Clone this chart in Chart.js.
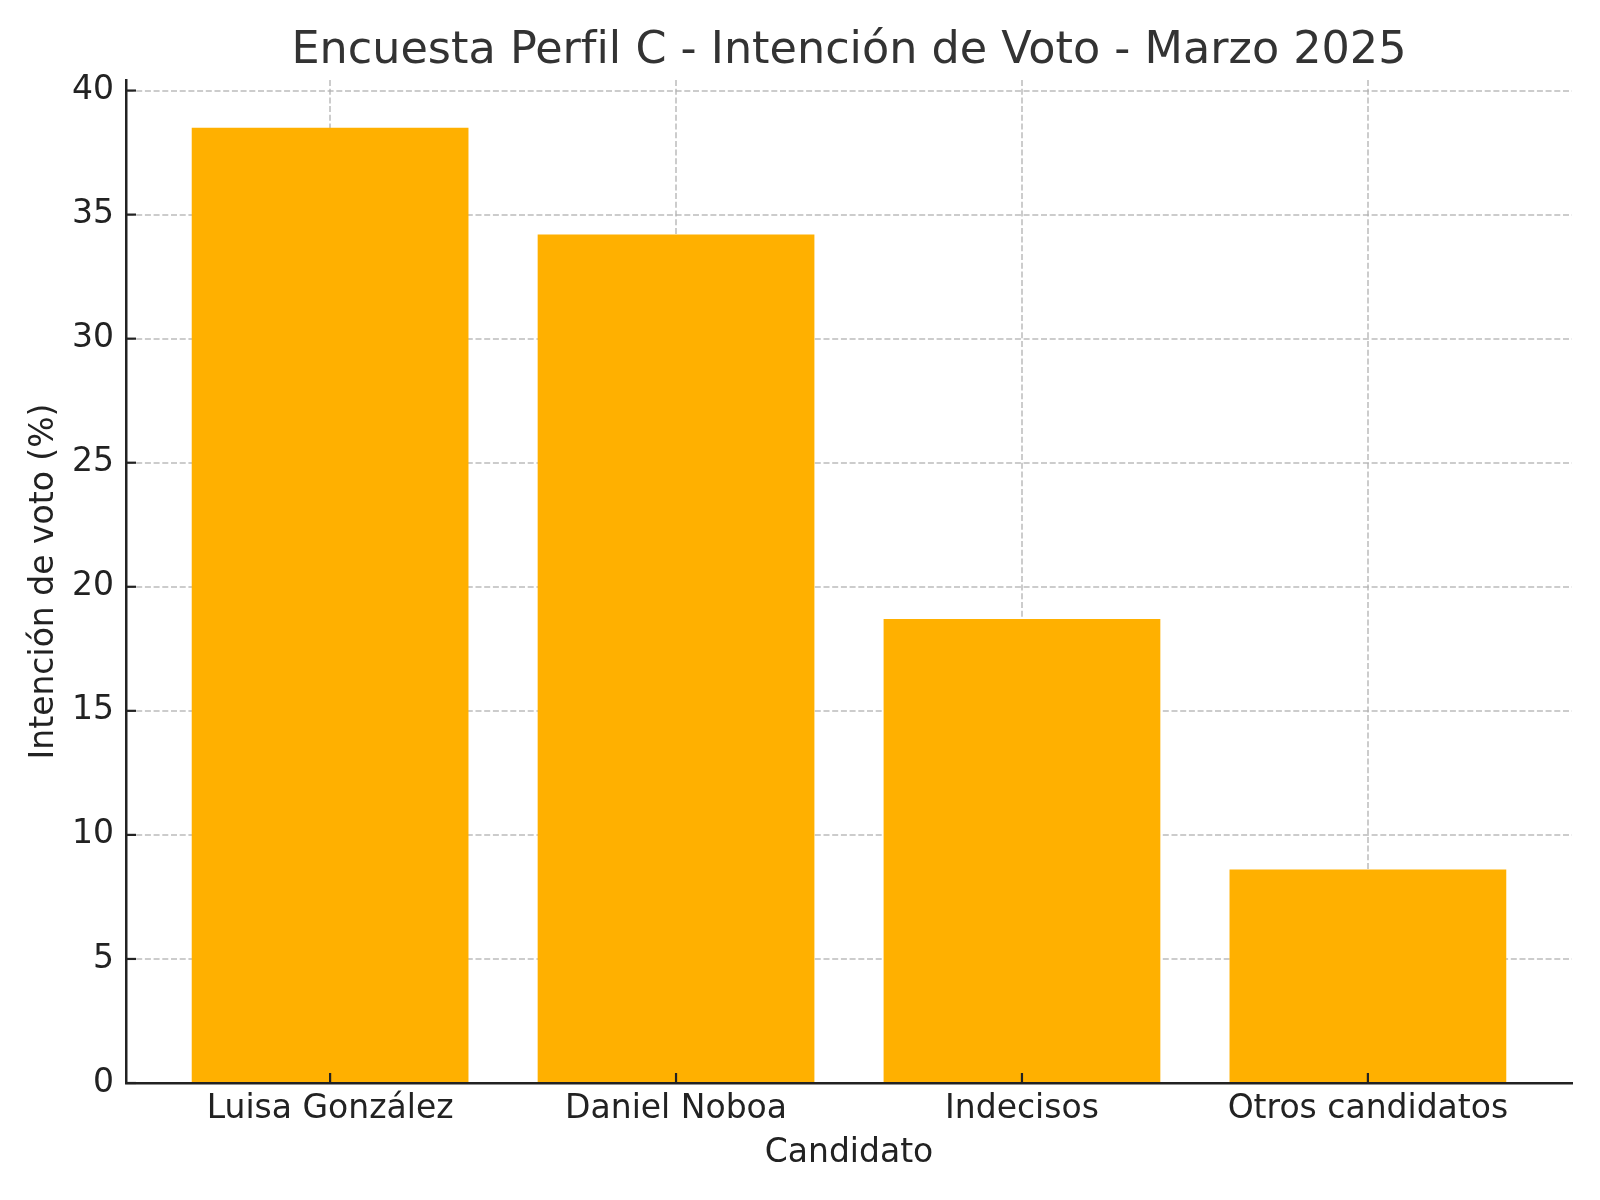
<!DOCTYPE html>
<html lang="es">
<head>
  <meta charset="UTF-8" />
  <title>Encuesta Perfil C - Intención de Voto - Marzo 2025</title>
  <script src="https://cdn.jsdelivr.net/npm/chart.js"></script>
  <style>
    body {
      margin: 0;
      background: #fff;
    }
    canvas {
      display: block;
    }
  </style>
</head>
<body>
  <canvas id="voteChart" width="1600" height="1200"></canvas>

  <script>
    // datos de la encuesta
    const candidatos = ["Luisa González", "Daniel Noboa", "Indecisos", "Otros candidatos"];
    const intencion = [38.5, 34.2, 18.7, 8.6];
    const yTicks = [0, 5, 10, 15, 20, 25, 30, 35, 40];

    const barColor = "#FFB000";
    const axisColor = "#222";
    const gridColor = "rgba(176, 176, 176, 0.65)";

    // marcas de graduación hacia adentro (estilo matplotlib)
    const innerTicks = {
      id: "innerTicks",
      afterDraw(chart) {
        const { ctx, chartArea, scales } = chart;
        ctx.save();
        ctx.strokeStyle = axisColor;
        ctx.lineWidth = 2.2;
        scales.y.ticks.forEach((t, i) => {
          const py = scales.y.getPixelForTick(i);
          ctx.beginPath();
          ctx.moveTo(chartArea.left, py);
          ctx.lineTo(chartArea.left + 10, py);
          ctx.stroke();
        });
        scales.x.ticks.forEach((t, i) => {
          const px = scales.x.getPixelForTick(i);
          ctx.beginPath();
          ctx.moveTo(px, chartArea.bottom);
          ctx.lineTo(px, chartArea.bottom - 10);
          ctx.stroke();
        });
        ctx.restore();
      }
    };

    const ctx = document.getElementById("voteChart").getContext("2d");
    new Chart(ctx, {
      type: "bar",
      data: {
        datasets: [{
          label: "Intención de voto (%)",
          data: candidatos.map((c, i) => ({ x: i, y: intencion[i] })),
          backgroundColor: barColor,
          borderWidth: 0,
          categoryPercentage: 1,
          barPercentage: 0.8
        }]
      },
      options: {
        responsive: false,
        devicePixelRatio: 1,
        animation: false,
        layout: { padding: { left: 0, right: 28, top: 0, bottom: 0 } },
        plugins: {
          legend: { display: false },
          tooltip: { enabled: false },
          title: {
            display: true,
            text: "Encuesta Perfil C - Intención de Voto - Marzo 2025",
            fullSize: false,
            color: "#333",
            font: { family: "DejaVu Sans", size: 44.5, weight: "normal" },
            padding: { top: 25, bottom: 1.6 }
          }
        },
        scales: {
          x: {
            type: "linear",
            offset: false,
            min: -0.59,
            max: candidatos.length - 1 + 0.59,
            z: 1,
            afterBuildTicks: s => { s.ticks = candidatos.map((c, i) => ({ value: i })); },
            afterFit: s => { s.height = 117; },
            ticks: {
              callback: v => candidatos[v],
              color: axisColor,
              padding: 7,
              maxRotation: 0,
              autoSkip: false,
              font: { family: "DejaVu Sans", size: 33 }
            },
            grid: {
              offset: false,
              color: gridColor,
              lineWidth: 2,
              drawTicks: false
            },
            border: { color: axisColor, width: 2.5, dash: [6, 2.7] },
            title: {
              display: true,
              text: "Candidato",
              color: axisColor,
              font: { family: "DejaVu Sans", size: 33 },
              padding: { top: 0, bottom: 27 }
            }
          },
          y: {
            min: 0,
            max: Math.max(...intencion) * 1.05,
            z: 1,
            afterBuildTicks: s => { s.ticks = yTicks.map(v => ({ value: v })); },
            afterFit: s => { s.width = 126; },
            ticks: {
              color: axisColor,
              padding: 12,
              font: { family: "DejaVu Sans", size: 33 }
            },
            grid: {
              color: gridColor,
              lineWidth: 2,
              drawTicks: false
            },
            border: { color: axisColor, width: 2.5, dash: [6, 2.7] },
            title: {
              display: true,
              text: "Intención de voto (%)",
              color: axisColor,
              font: { family: "DejaVu Sans", size: 33 },
              padding: { top: 25, bottom: 0 }
            }
          }
        }
      },
      plugins: [innerTicks]
    });
  </script>
</body>
</html>
